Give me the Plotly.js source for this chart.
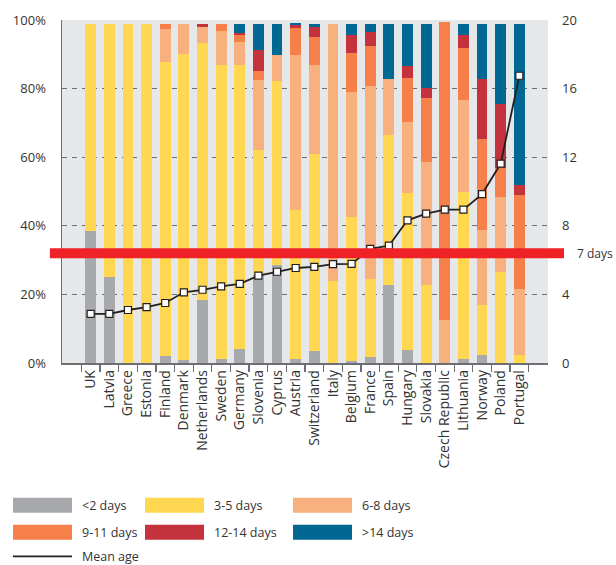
<!DOCTYPE html>
<html>
<head>
<meta charset="utf-8">
<script src="https://cdn.plot.ly/plotly-3.0.1.min.js"></script>
<style>html,body{margin:0;padding:0;background:#fff;}#chart{width:616px;height:565px;}</style>
</head>
<body>
<div id="chart"></div>
<script>
const countries = ['UK','Latvia','Greece','Estonia','Finland','Denmark','Netherlands','Sweden','Germany','Slovenia','Cyprus','Austria','Switzerland','Italy','Belgium','France','Spain','Hungary','Slovakia','Czech Republic','Lithuania','Norway','Poland','Portugal'];
const under2 = [38.4,25.0,0,0,2.1,1.0,18.5,1.3,4.2,25.8,28.5,1.3,3.6,0,0.5,1.8,22.6,3.7,0,0,1.3,2.4,0,0];
const days3to5 = [60.5,73.9,98.9,98.9,85.8,89.2,74.9,85.7,82.8,36.4,53.6,43.4,57.4,23.8,42.2,22.8,44.0,46.0,22.8,0,48.6,14.4,26.6,2.4];
const days6to8 = [0,0,0,0,9.6,8.7,4.6,9.9,6.7,20.4,7.8,45.2,26.0,75.1,36.2,56.2,16.3,20.6,35.9,12.6,26.7,21.9,21.9,19.3];
const days9to11 = [0,0,0,0,1.4,0,0,2.0,2.0,2.4,0,7.7,8.1,0,11.6,11.7,0,12.9,18.6,86.7,15.3,26.7,8.4,27.4];
const days12to14 = [0,0,0,0,0,0,0.9,0,0.5,6.3,0,0.9,2.8,0,5.0,4.1,0,3.5,3.0,0,3.8,17.5,18.7,2.9];
const over14 = [0,0,0,0,0,0,0,0,2.7,7.6,9.0,0.6,1.0,0,3.4,2.3,16.0,12.2,18.6,0,3.2,16.0,23.3,46.9];
const meanAge = [2.87,2.87,3.09,3.26,3.50,4.12,4.27,4.47,4.61,5.09,5.32,5.54,5.60,5.77,5.78,6.65,6.84,8.32,8.71,8.94,8.94,9.85,11.62,16.75];
const pctTickVals = [0, 20, 40, 60, 80, 100];
const pctTickText = ['0%', '20%', '40%', '60%', '80%', '100%'];
const dayTickVals = [0, 4, 8, 12, 16, 20];
const seriesNames = ['<2 days','3-5 days','6-8 days','9-11 days','12-14 days','>14 days'];
const seriesColors = ['#a7a9ac','#ffd750','#f9b07f','#f5804a','#c4323d','#006892'];
const thresholdDays = 6.4;
const thresholdLabel = '7 days';
const lineName = 'Mean age';

const seriesValues = [under2, days3to5, days6to8, days9to11, days12to14, over14];
const traces = seriesValues.map((vals, i) => ({
  type: 'bar', x: countries, y: vals, name: seriesNames[i],
  marker: {color: seriesColors[i], line: {width: 0}},
  hoverinfo: 'x+y+name'
}));
traces.push({
  type: 'scatter', mode: 'lines+markers', x: countries, y: meanAge, yaxis: 'y2', name: lineName,
  line: {color: '#231f20', width: 1.8},
  marker: {symbol: 'square', size: 7, color: '#ffffff', line: {color: '#231f20', width: 1.2}}
});

const textColor = '#333333';
const fam = 'Open Sans, sans-serif';
const axisGray = '#6d6e71';

// manual legend (paper coords)
const shapes = [];
const annotations = [];
const colX = [[-0.1008, 0.0206, 0.0370], [0.1708, 0.2922, 0.3086], [0.4753, 0.5967, 0.6132]];
const rowY = [[-0.4364, -0.3927], [-0.5152, -0.4714]];
seriesNames.forEach((nm, i) => {
  const c = colX[i % 3], r = rowY[Math.floor(i / 3)];
  shapes.push({type: 'rect', xref: 'paper', yref: 'paper', x0: c[0], x1: c[1], y0: r[0], y1: r[1],
    fillcolor: seriesColors[i], line: {width: 0}});
  annotations.push({xref: 'paper', yref: 'paper', x: c[2], y: (r[0] + r[1]) / 2, xanchor: 'left', yanchor: 'middle',
    text: nm, showarrow: false, font: {family: fam, size: 12.5, color: textColor}});
});
shapes.push({type: 'line', xref: 'paper', yref: 'paper', x0: -0.1008, x1: 0.0206, y0: -0.5638, y1: -0.5638,
  line: {color: '#231f20', width: 1.8}});
annotations.push({xref: 'paper', yref: 'paper', x: 0.0370, y: -0.5638, xanchor: 'left', yanchor: 'middle',
  text: lineName, showarrow: false, font: {family: fam, size: 12.5, color: textColor}});

// threshold band
shapes.push({type: 'line', xref: 'paper', yref: 'y2', x0: -0.025, x1: 1.033, y0: thresholdDays, y1: thresholdDays,
  line: {color: '#ee2227', width: 10}, layer: 'above'});
annotations.push({xref: 'paper', yref: 'y2', x: 1.056, y: thresholdDays, xanchor: 'left', yanchor: 'middle',
  text: thresholdLabel, showarrow: false, font: {family: fam, size: 12, color: textColor}});

const layout = {
  width: 616, height: 565,
  margin: {l: 62, r: 68, t: 20, b: 202, pad: 0},
  paper_bgcolor: '#ffffff', plot_bgcolor: '#e6e7e8',
  font: {family: fam, size: 12, color: textColor},
  barmode: 'stack', bargap: 0.42,
  showlegend: false,
  xaxis: {
    type: 'category', tickson: 'boundaries', ticks: 'outside', ticklen: 7, tickcolor: axisGray, tickwidth: 1.2,
    showline: true, linecolor: axisGray, linewidth: 1.5, showgrid: false, tickangle: -90,
    tickfont: {family: fam, size: 14, color: textColor}, automargin: false
  },
  yaxis: {
    range: [0, 100], tickmode: 'array', tickvals: pctTickVals, ticktext: pctTickText,
    showgrid: true, gridcolor: axisGray, gridwidth: 1.2, griddash: '5px,5px',
    showline: true, linecolor: axisGray, linewidth: 1.5, zeroline: false, ticks: '',
    ticklabelstandoff: 12, tickfont: {family: fam, size: 13, color: textColor}, automargin: false
  },
  yaxis2: {
    overlaying: 'y', side: 'right', range: [0, 20], tickmode: 'array', tickvals: dayTickVals,
    showgrid: false, showline: false, zeroline: false, ticks: '', ticklabelstandoff: 13,
    tickfont: {family: fam, size: 13, color: textColor}, automargin: false
  },
  shapes: shapes,
  annotations: annotations
};

Plotly.newPlot('chart', traces, layout, {displayModeBar: false, staticPlot: true});
</script>
</body>
</html>
